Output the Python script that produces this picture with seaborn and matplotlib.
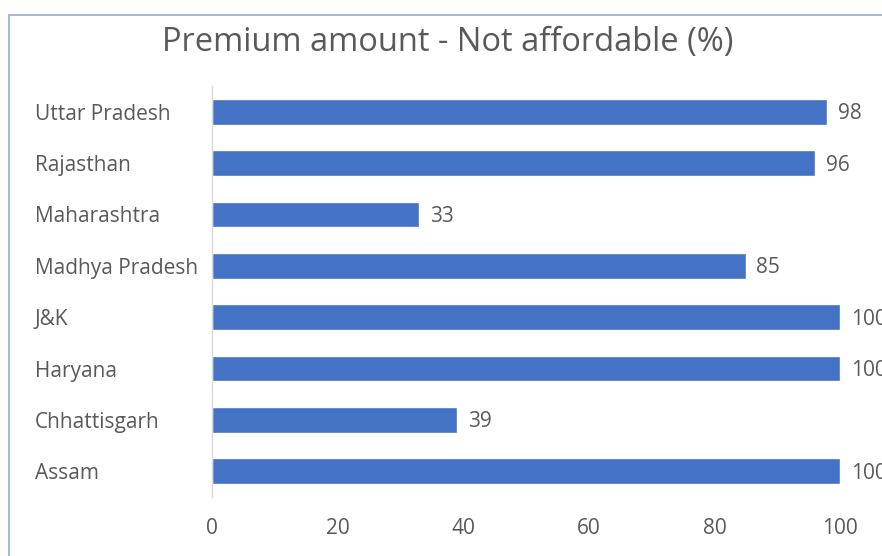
import matplotlib
matplotlib.use("Agg")
import matplotlib.pyplot as plt
import seaborn as sns
import pandas as pd
from matplotlib.patches import Rectangle

states = ["Uttar Pradesh", "Rajasthan", "Maharashtra", "Madhya Pradesh",
          "J&K", "Haryana", "Chhattisgarh", "Assam"]
values = [98, 96, 33, 85, 100, 100, 39, 100]
xticks = [0, 20, 40, 60, 80, 100]
title = "Premium amount - Not affordable (%)"

sns.set_theme(style="white")
plt.rcParams['font.family'] = ['Open Sans', 'DejaVu Sans']

df = pd.DataFrame({"state": states, "value": values})

fig = plt.figure(figsize=(8.82, 5.56), dpi=100)
ax = fig.add_axes([212/882, 1 - 497/556, 628/882, (497-86)/556])

sns.barplot(data=df, x="value", y="state", orient="h", color="#4472C4",
            width=0.5, saturation=1, ax=ax)

txt = "#595959"
fs = 15
ax.set_xlim(0, 100)
ax.set_xticks(xticks)
ax.set_xticklabels([str(t) for t in xticks], color=txt, fontsize=fs)
ax.tick_params(axis='y', labelsize=fs, labelcolor=txt, length=0, pad=0)
ax.tick_params(axis='x', length=0, pad=15)
ax.set_xlabel("")
ax.set_ylabel("")
for s in ["top", "right", "bottom"]:
    ax.spines[s].set_visible(False)
ax.spines["left"].set_color("#D9D9D9")
ax.spines["left"].set_linewidth(1)
for lbl in ax.get_yticklabels():
    lbl.set_horizontalalignment("left")
    lbl.set_x(-177/628)

for i, v in enumerate(values):
    ax.text(v + 1.7, i + 0.04, str(v), va="center", ha="left", fontsize=fs,
            color=txt, clip_on=False)

fig.text(448/882, 1 - 43/556, title, ha="center", va="center",
         fontsize=23.5, color=txt)

fig.patches.append(Rectangle((9/882, -0.1), 1.2, 1 - 15/556 + 0.1,
                             transform=fig.transFigure, fill=False,
                             edgecolor="#8FAADC", linewidth=1.2))

fig.savefig("out.png", dpi=100)
